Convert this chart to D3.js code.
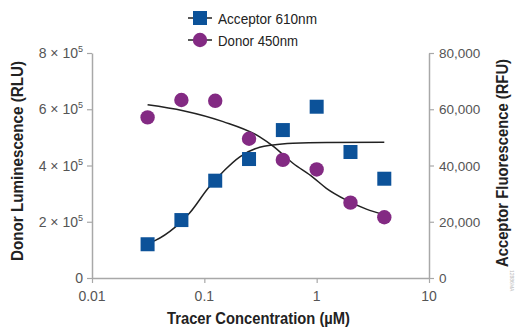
<!DOCTYPE html>
<html>
<head>
<meta charset="utf-8">
<script src="https://cdn.jsdelivr.net/npm/d3@7"></script>
<style>
  html, body { margin: 0; padding: 0; background: #fff; }
  svg { display: block; }
</style>
</head>
<body>
<svg id="chart" width="525" height="327"></svg>
<script>
// ---- Data ----
const concentrations = [0.03125, 0.0625, 0.125, 0.25, 0.5, 1, 2, 4];
const acceptorValues = [12000, 20600, 34600, 42300, 52600, 60900, 44800, 35300];
const donorValues = [571000, 633000, 630000, 495000, 420000, 386000, 268000, 216000];

// fitted curves
const acceptorFitX = [0.03125, 0.0363, 0.0547, 0.0743, 0.108, 0.152, 0.207, 0.311, 0.409, 0.615, 1.22, 4];
const acceptorFitY = [12300, 13300, 18000, 23200, 31900, 38400, 43100, 46500, 47300, 47900, 48200, 48250];
const donorFitX = [0.03125, 0.0648, 0.147, 0.311, 0.409, 0.615, 0.927, 1.22, 1.84, 2.77, 4];
const donorFitY = [616000, 595000, 556000, 502000, 469000, 408000, 358000, 319000, 277000, 245000, 225000];

const xTicks = [0.01, 0.1, 1, 10];
const xTickLabels = ["0.01", "0.1", "1", "10"];
const leftTicks = [0, 200000, 400000, 600000, 800000];
const leftTickLabels = [["0", ""], ["2 \u00d7 10", "5"], ["4 \u00d7 10", "5"], ["6 \u00d7 10", "5"], ["8 \u00d7 10", "5"]];
const rightTicks = [0, 20000, 40000, 60000, 80000];
const rightTickLabels = ["0", "20,000", "40,000", "60,000", "80,000"];

const seriesNames = ["Acceptor 610nm", "Donor 450nm"];
const xTitle = "Tracer Concentration (\u00b5M)";
const leftTitle = "Donor Luminescence (RLU)";
const rightTitle = "Acceptor Fluorescence (RFU)";

// ---- Layout ----
const L = 92, R = 429, T = 53, B = 278;
const blue = "#0c5299", purple = "#832a83";
const axisColor = "#a8a8a8", tickText = "#555";
const tickFont = "'Liberation Sans', Arial, sans-serif";
const titleFont = "'Liberation Sans', Arial, sans-serif";

const svg = d3.select("#chart");

const x = d3.scaleLog().domain([0.01, 10]).range([L, R]);
const yL = d3.scaleLinear().domain([0, 800000]).range([B, T]);
const yR = d3.scaleLinear().domain([0, 80000]).range([B, T]);

// axes
function styleAxis(g) {
  g.select(".domain").attr("stroke", axisColor).attr("stroke-width", 1.5);
  g.selectAll(".tick line").attr("stroke", axisColor).attr("stroke-width", 1.2);
  g.selectAll(".tick text").remove();
}
svg.append("g").attr("transform", `translate(${L},0)`)
  .call(d3.axisLeft(yL).tickValues(leftTicks).tickSize(5).tickSizeOuter(0).tickFormat(""))
  .call(styleAxis);
svg.append("g").attr("transform", `translate(${R},0)`)
  .call(d3.axisRight(yR).tickValues(rightTicks).tickSize(5).tickSizeOuter(0).tickFormat(""))
  .call(styleAxis);
svg.append("g").attr("transform", `translate(0,${B})`)
  .call(d3.axisBottom(x).tickValues(xTicks).tickSize(5).tickSizeOuter(0).tickFormat(""))
  .call(styleAxis);

// tick labels
leftTicks.forEach((v, i) => {
  const t = svg.append("text")
    .attr("x", L - 9).attr("y", yL(v) + 5)
    .attr("text-anchor", "end")
    .attr("font-family", tickFont).attr("font-size", 14).attr("fill", tickText);
  t.append("tspan").text(leftTickLabels[i][0]);
  if (leftTickLabels[i][1]) {
    t.append("tspan").attr("font-size", 9).attr("dy", -6).text(leftTickLabels[i][1]);
  }
});
rightTicks.forEach((v, i) => {
  svg.append("text")
    .attr("x", R + 10).attr("y", yR(v) + 5)
    .attr("font-family", tickFont).attr("font-size", 13.5).attr("fill", tickText)
    .text(rightTickLabels[i]);
});
xTicks.forEach((v, i) => {
  svg.append("text")
    .attr("x", x(v)).attr("y", B + 23)
    .attr("text-anchor", "middle")
    .attr("font-family", tickFont).attr("font-size", 14).attr("fill", tickText)
    .text(xTickLabels[i]);
});

// titles (condensed bold look)
function title(tr, txt, len) {
  svg.append("text")
    .attr("transform", tr)
    .attr("text-anchor", "middle")
    .attr("font-family", titleFont).attr("font-weight", "bold").attr("font-size", 17).attr("fill", "#222")
    .attr("textLength", len).attr("lengthAdjust", "spacingAndGlyphs")
    .text(txt);
}
title(`translate(258.5,324)`, xTitle, 183);
title(`translate(23,161) rotate(-90)`, leftTitle, 200);
title(`translate(508,163) rotate(-90)`, rightTitle, 208);

// fit curves
const lineL = d3.line().x(d => x(d[0])).y(d => yL(d[1])).curve(d3.curveMonotoneX);
const lineR = d3.line().x(d => x(d[0])).y(d => yR(d[1])).curve(d3.curveMonotoneX);
svg.append("path")
  .datum(donorFitX.map((v, i) => [v, donorFitY[i]]))
  .attr("d", lineL).attr("fill", "none").attr("stroke", "#222").attr("stroke-width", 1.5);
svg.append("path")
  .datum(acceptorFitX.map((v, i) => [v, acceptorFitY[i]]))
  .attr("d", lineR).attr("fill", "none").attr("stroke", "#222").attr("stroke-width", 1.5);

// points
const S = 14;
svg.append("g").selectAll("rect")
  .data(concentrations.map((c, i) => [c, acceptorValues[i]]))
  .join("rect")
  .attr("x", d => x(d[0]) - S / 2).attr("y", d => yR(d[1]) - S / 2)
  .attr("width", S).attr("height", S).attr("fill", blue);
svg.append("g").selectAll("circle")
  .data(concentrations.map((c, i) => [c, donorValues[i]]))
  .join("circle")
  .attr("cx", d => x(d[0])).attr("cy", d => yL(d[1]))
  .attr("r", 7.2).attr("fill", purple);

// legend
const legendLens = [99, 80];
const lg = svg.append("g");
[18, 40].forEach((ly, i) => {
  lg.append("line").attr("x1", 188).attr("x2", 212).attr("y1", ly).attr("y2", ly)
    .attr("stroke", "#222").attr("stroke-width", 1.5);
  if (i === 0) {
    lg.append("rect").attr("x", 200 - S / 2).attr("y", ly - S / 2).attr("width", S).attr("height", S).attr("fill", blue);
  } else {
    lg.append("circle").attr("cx", 200).attr("cy", ly).attr("r", 7.2).attr("fill", purple);
  }
  lg.append("text").attr("x", 218).attr("y", ly + 5.5)
    .attr("font-family", titleFont).attr("font-size", 15.5).attr("fill", "#222")
    .attr("textLength", legendLens[i]).attr("lengthAdjust", "spacingAndGlyphs")
    .text(seriesNames[i]);
});

// small code
svg.append("text")
  .attr("transform", "translate(510,270) rotate(90)")
  .attr("font-family", tickFont).attr("font-size", 5).attr("fill", "#bbb")
  .text("12886MA");
</script>
</body>
</html>
